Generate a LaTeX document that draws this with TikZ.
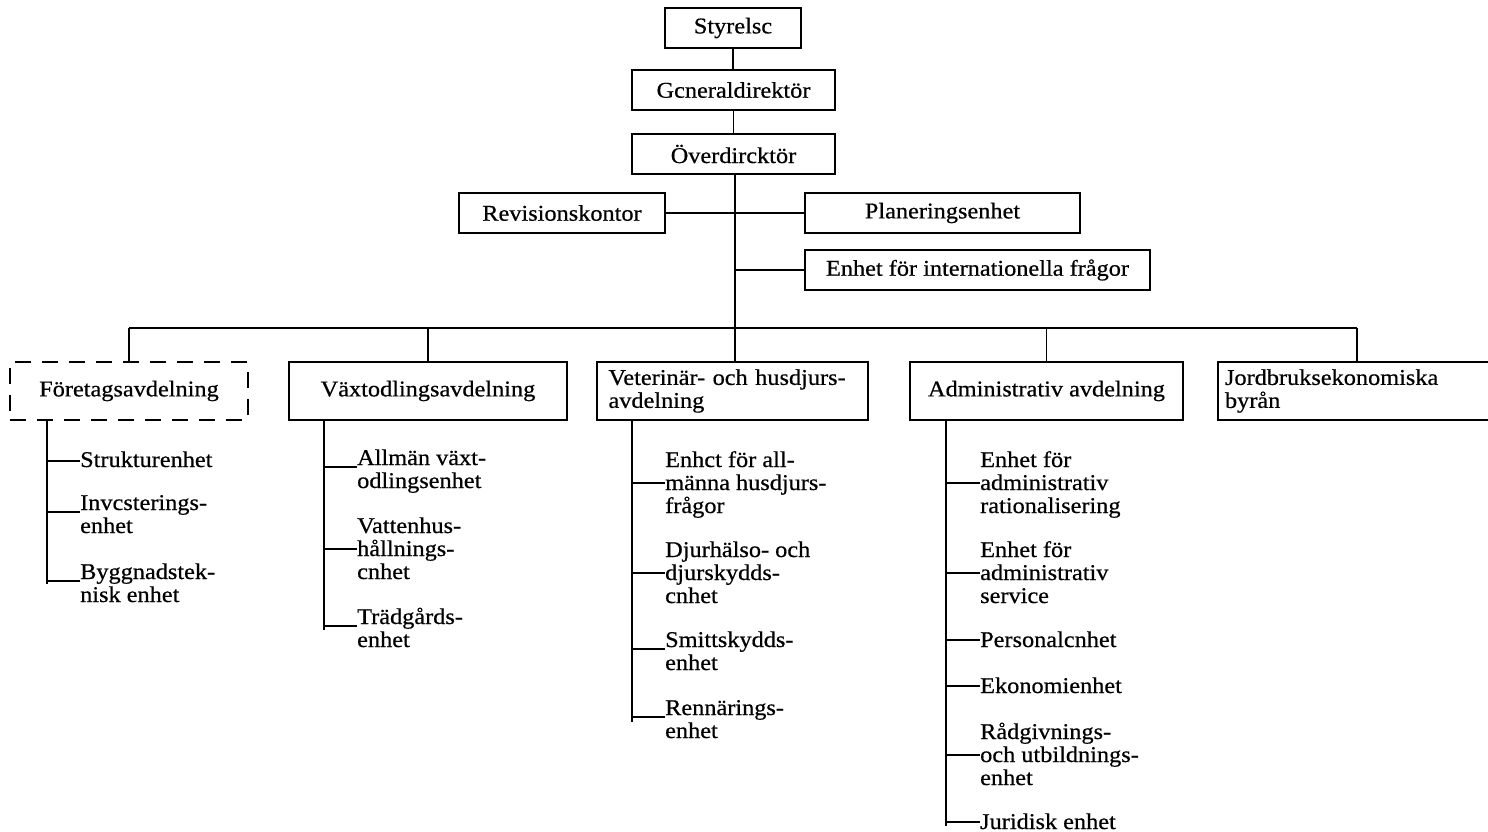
\documentclass[tikz,border=0pt]{standalone}
\usepackage{fontspec}
\setmainfont[FakeStretch=1.08,FakeBold=0.6]{Liberation Serif}
\begin{document}
\begin{tikzpicture}[x=1pt,y=-1pt,
  every node/.style={font=\fontsize{22.5}{23}\selectfont},
  orgbox/.style={draw, line width=1.7pt, inner sep=0pt, minimum height=40pt},
  deptbox/.style={draw, line width=1.7pt, inner sep=0pt, minimum height=58pt},
  dashbox/.style={deptbox, dash pattern=on 16pt off 11pt},
  sub/.style={anchor=base west, align=left, inner sep=0pt},
  ln/.style={line width=1.7pt}]
\useasboundingbox (0,0) rectangle (1488,832);
\clip (0,0) rectangle (1488,832);
% top hierarchy
\node[orgbox, minimum width=136pt] (sty) at (733,28) {Styrelsc};
\node[orgbox, minimum width=203pt] (gen) at (733.5,90) {Gcneraldirektör};
\node[orgbox, minimum width=203pt] (ovr) at (733.5,154) {Överdircktör};
\node[orgbox, minimum width=206pt] (rev) at (562,213) {Revisionskontor};
\node[orgbox, minimum width=275pt] (plan) at (942.5,213) {Planeringsenhet};
\node[orgbox, minimum width=345pt] (intl) at (977.5,270) {Enhet för internationella frågor};
\draw[ln] (sty.south) -- (sty.south |- gen.north);
\draw[ln] (gen.south) -- (gen.south |- ovr.north);
% departments
\node[dashbox, minimum width=238pt] (fa) at (129,391) {Företagsavdelning};
\node[deptbox, minimum width=278pt] (va) at (428,391) {Växtodlingsavdelning};
\node[deptbox, inner xsep=11.5pt, text width=248pt, align=left] (ve) at (732.5,391) {Veterinär- och husdjurs-\\avdelning};
\node[deptbox, minimum width=273pt] (ad) at (1046.5,391) {Administrativ avdelning};
\node[deptbox, inner xsep=7pt, text width=270pt, align=left] (jb) at (1360,391) {Jordbruksekonomiska\\byrån};
% main vertical and bus
\coordinate (mv) at (735,328);
\coordinate (bl) at (129,328);
\coordinate (br) at (1357,328);
\draw[ln] (ovr.south -| mv) -- (ve.north -| mv);
\draw[ln] (rev.east) -- (rev.east -| mv);
\draw[ln] (plan.west -| mv) -- (plan.west);
\draw[ln] (intl.west -| mv) -- (intl.west);
\draw[ln] (bl) -- (br);
\draw[ln] (bl) -- (fa.north);
\draw[ln] (va.north |- bl) -- (va.north);
\draw[ln] (ad.north |- bl) -- (ad.north);
\draw[ln] (br) -- (br |- jb.north);
% Företagsavdelning units
\node[sub] (f1) at (80,467) {Strukturenhet};
\node[sub] (f2) at (80,533) {Invcsterings-\\enhet};
\node[sub] (f3) at (80,602) {Byggnadstek-\\nisk enhet};
\coordinate (fv) at (47,584);
\coordinate (fc1) at (47,461);
\coordinate (fc2) at (47,512);
\coordinate (fc3) at (47,581);
\draw[ln] (fa.south -| fv) -- (fv);
\draw[ln] (fc1) -- (fc1 -| f1.west);
\draw[ln] (fc2) -- (fc2 -| f2.west);
\draw[ln] (fc3) -- (fc3 -| f3.west);
% Växtodlingsavdelning units
\node[sub] (v1) at (357,488) {Allmän växt-\\odlingsenhet};
\node[sub] (v2) at (357,579) {Vattenhus-\\hållnings-\\cnhet};
\node[sub] (v3) at (357,647) {Trädgårds-\\enhet};
\coordinate (vv) at (324,630);
\coordinate (vc1) at (324,467);
\coordinate (vc2) at (324,549);
\coordinate (vc3) at (324,626);
\draw[ln] (va.south -| vv) -- (vv);
\draw[ln] (vc1) -- (vc1 -| v1.west);
\draw[ln] (vc2) -- (vc2 -| v2.west);
\draw[ln] (vc3) -- (vc3 -| v3.west);
% Veterinär units
\node[sub] (e1) at (665,513) {Enhct för all-\\männa husdjurs-\\frågor};
\node[sub] (e2) at (665,603) {Djurhälso- och\\djurskydds-\\cnhet};
\node[sub] (e3) at (665,670) {Smittskydds-\\enhet};
\node[sub] (e4) at (665,738) {Rennärings-\\enhet};
\coordinate (ev) at (632,722);
\coordinate (ec1) at (632,483);
\coordinate (ec2) at (632,573);
\coordinate (ec3) at (632,649);
\coordinate (ec4) at (632,717);
\draw[ln] (ve.south -| ev) -- (ev);
\draw[ln] (ec1) -- (ec1 -| e1.west);
\draw[ln] (ec2) -- (ec2 -| e2.west);
\draw[ln] (ec3) -- (ec3 -| e3.west);
\draw[ln] (ec4) -- (ec4 -| e4.west);
% Administrativ units
\node[sub] (a1) at (980,513) {Enhet för\\administrativ\\rationalisering};
\node[sub] (a2) at (980,603) {Enhet för\\administrativ\\service};
\node[sub] (a3) at (980,647) {Personalcnhet};
\node[sub] (a4) at (980,693) {Ekonomienhet};
\node[sub] (a5) at (980,785) {Rådgivnings-\\och utbildnings-\\enhet};
\node[sub] (a6) at (980,829) {Juridisk enhet};
\coordinate (av) at (946,826);
\coordinate (ac1) at (946,483);
\coordinate (ac2) at (946,573);
\coordinate (ac3) at (946,640);
\coordinate (ac4) at (946,686);
\coordinate (ac5) at (946,755);
\coordinate (ac6) at (946,822);
\draw[ln] (ad.south -| av) -- (av);
\draw[ln] (ac1) -- (ac1 -| a1.west);
\draw[ln] (ac2) -- (ac2 -| a2.west);
\draw[ln] (ac3) -- (ac3 -| a3.west);
\draw[ln] (ac4) -- (ac4 -| a4.west);
\draw[ln] (ac5) -- (ac5 -| a5.west);
\draw[ln] (ac6) -- (ac6 -| a6.west);
\end{tikzpicture}
\end{document}
